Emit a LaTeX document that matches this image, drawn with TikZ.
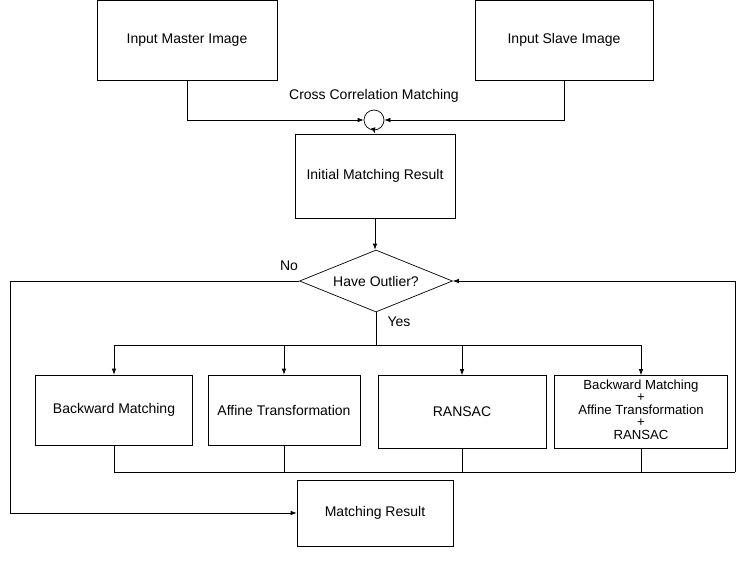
\documentclass[tikz,border=0pt]{standalone}
\usepackage{fontspec}
\setmainfont{Liberation Sans}
\usetikzlibrary{arrows.meta,shapes.geometric}
\begin{document}
\begin{tikzpicture}[x=1pt,y=-1pt,
  font=\fontsize{14}{16}\selectfont,
  line width=0.7pt,
  box/.style={draw,minimum width=#1,inner sep=0pt,align=center},
  tline/.style={inner sep=0pt,text height=7.5pt,text depth=1.5pt,font=\fontsize{13.2}{14}\selectfont},
  arr/.style={-{Latex[length=6pt,width=4.5pt]}}]
\useasboundingbox (0,0) rectangle (736,576);
% top boxes
\node[box=180pt,minimum height=80pt] (master) at (187,40) {Input Master Image};
\node[box=178pt,minimum height=80pt] (slave) at (564,40) {Input Slave Image};
\node[draw,circle,minimum size=20pt,inner sep=0pt] (cc) at (374,120) {};
\node (cclabel) at (374,96) {Cross Correlation Matching};
\node[box=160pt,minimum height=84pt] (init) at (375,176) {Initial Matching Result};
\node[draw,diamond,aspect=2.45,minimum width=153pt,minimum height=62pt,inner sep=0pt] (dia) at (376,281) {Have Outlier?};
\node (no) at (289,266) {No};
\node (yes) at (399,322) {Yes};
% method boxes
\node[box=157pt,minimum height=70pt] (bm) at (114,410) {Backward Matching};
\node[box=152pt,minimum height=70pt] (af) at (284,410) {Affine Transformation};
\node[box=168pt,minimum height=73pt] (rs) at (462,412) {RANSAC};
\node[box=173pt,minimum height=73pt] (cb) at (641,412) {};
\node[tline] (cb1) at (641,386) {Backward Matching};
\node[tline] (cb2) at (641,398.5) {+};
\node[tline] (cb3) at (641,411) {Affine Transformation};
\node[tline] (cb4) at (641,423.5) {+};
\node[tline] (cb5) at (641,436) {RANSAC};
\node[box=156pt,minimum height=66pt] (res) at (375,513) {Matching Result};
% coordinates
\coordinate (split) at (376,345);
\coordinate (merge) at (735,472);
\coordinate (left) at (10,281);
% connectors
\draw[arr] (master.south) |- (cc.west);
\draw[arr] (slave.south) |- (cc.east);
\draw[arr] (cc.south) -- (init.north);
\draw[arr] (init.south) -- (init.south |- dia.north);
\draw (dia.south) -- (split);
\draw (bm.north |- split) -- (cb.north |- split);
\foreach \b in {bm,af,rs,cb}{
  \draw[arr] (\b.north |- split) -- (\b.north);
  \draw (\b.south) -- (\b.south |- merge);
}
\draw (bm.south |- merge) -- (merge);
\draw[arr] (merge) |- (dia.east);
\draw[arr] (dia.west) -- (left) |- (res.west);
\end{tikzpicture}
\end{document}
